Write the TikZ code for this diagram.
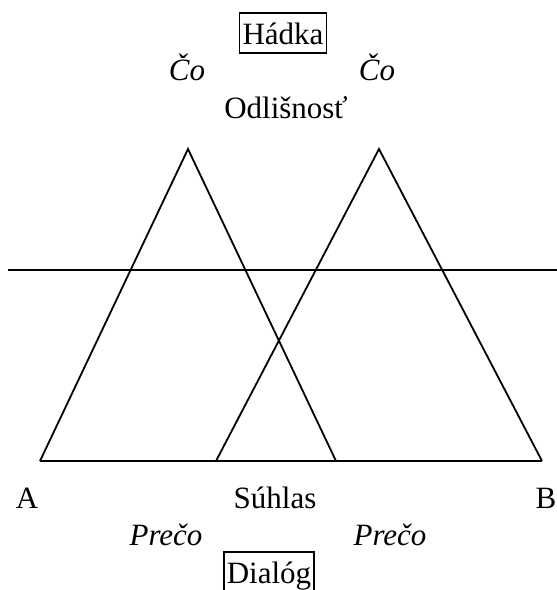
\documentclass[tikz,border=0pt]{standalone}
\usepackage{fontspec}
\setmainfont{Liberation Serif}
\def\labelsize{\fontsize{31}{37}\selectfont}
\tikzset{
  word/.style={anchor=base, inner sep=0pt, font=\labelsize},
  framed/.style={draw, line width=1.8pt, anchor=base, inner xsep=3pt, inner ysep=5pt,
    text height=26pt, text depth=4pt, font=\labelsize}
  }
\tikzstyle{side} = [draw, line width=1.8pt, line join=miter]

\begin{document}
\begin{tikzpicture}[x=1pt, y=-1pt]
   \useasboundingbox (0,0) rectangle (557,590);

   % corners of the two triangles
   \coordinate (top1) at (188,149);
   \coordinate (top2) at (379,149);
   \coordinate (left1) at (40,461);
   \coordinate (right1) at (336,461);
   \coordinate (left2) at (216,461);
   \coordinate (right2) at (542,461);
   \coordinate (lineL) at (8,270);
   \coordinate (lineR) at (557,270);

   \path[side] (left1) -- (top1) -- (right1);
   \path[side] (left2) -- (top2) -- (right2);
   \path[side] (left1) -- (right2);
   \path[side] (lineL) -- (lineR);

   % labels above
   \node[framed] (hadka) at (283,44) {Hádka};
   \node[word] (co1) at (187,80) {\itshape Čo};
   \node[word] (co2) at (377,80) {\itshape Čo};
   \node[word] (odl) at (286,118) {Odlišnosť};

   % labels below
   \node[word] (a) at (27,508) {A};
   \node[word] (suhlas) at (275,508) {Súhlas};
   \node[word] (b) at (546,508) {B};
   \node[word] (preco1) at (166,545) {\itshape Prečo};
   \node[word] (preco2) at (390,545) {\itshape Prečo};
   \node[framed] (dialog) at (269,583) {Dialóg};
\end{tikzpicture}
\end{document}
